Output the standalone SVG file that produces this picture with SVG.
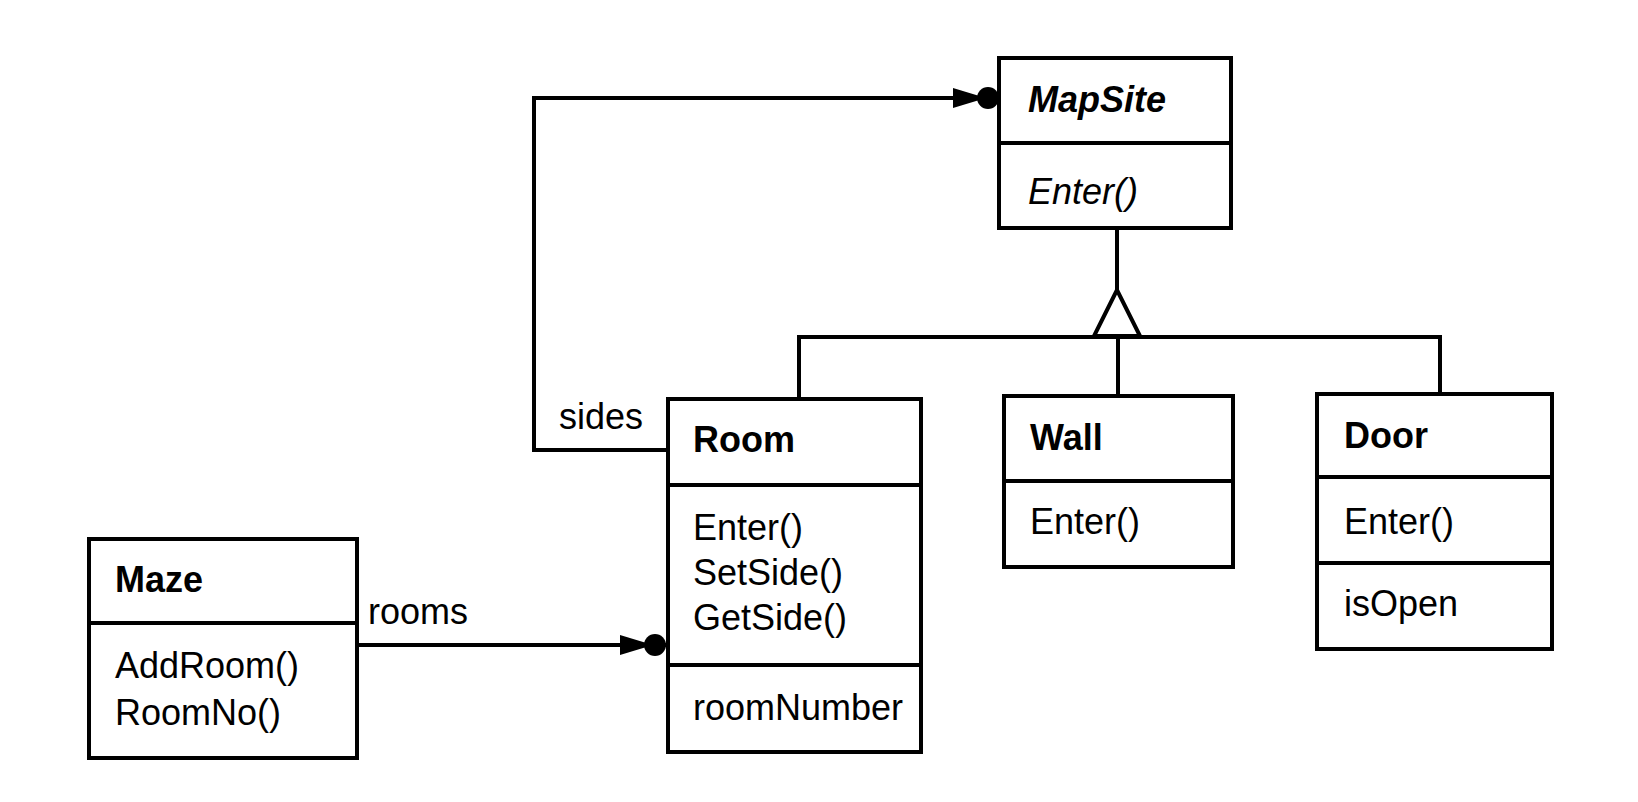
<svg xmlns="http://www.w3.org/2000/svg" width="1638" height="802" viewBox="0 0 1638 802">
<style>
.box{fill:#fff;stroke:#000;stroke-width:4}
.div{stroke:#000;stroke-width:4}
.ln{fill:none;stroke:#000;stroke-width:4}
text{font-family:"Liberation Sans",Arial,Helvetica,sans-serif;font-size:36px;fill:#000}
.name{font-weight:bold}
.abs{font-weight:bold;font-style:italic}
.it{font-style:italic}
</style>
<defs>
<marker id="assoc" markerUnits="userSpaceOnUse" markerWidth="50" markerHeight="28" refX="47" refY="14" orient="auto">
<path d="M1,4 L34,14 L1,24 Z" fill="#000"/>
<circle cx="36" cy="14" r="11" fill="#000"/>
</marker>
</defs>
<rect width="1638" height="802" fill="#fff"/>
<g id="connectors">
<polyline class="ln" points="668,450 534,450 534,98 999,98" marker-end="url(#assoc)"/>
<line class="ln" x1="357" y1="645" x2="666" y2="645" marker-end="url(#assoc)"/>
<line class="ln" x1="1117" y1="228" x2="1117" y2="290"/>
<polygon points="1117,290 1094,336 1140,336" fill="#fff" stroke="#000" stroke-width="4" stroke-linejoin="miter"/>
<polyline class="ln" points="799,399 799,337 1440,337 1440,394"/>
<line class="ln" x1="1118" y1="337" x2="1118" y2="396"/>
</g>
<g id="MapSite">
<rect class="box" x="999" y="58" width="232" height="170"/>
<line class="div" x1="999" y1="143" x2="1231" y2="143"/>
<text class="abs" x="1028" y="112">MapSite</text>
<text class="it" x="1028" y="204">Enter()</text>
</g>
<g id="Room">
<rect class="box" x="668" y="399" width="253" height="353"/>
<line class="div" x1="668" y1="485" x2="921" y2="485"/>
<line class="div" x1="668" y1="665" x2="921" y2="665"/>
<text class="name" x="693" y="452">Room</text>
<text x="693" y="540">Enter()</text>
<text x="693" y="585">SetSide()</text>
<text x="693" y="630">GetSide()</text>
<text x="693" y="720">roomNumber</text>
</g>
<g id="Wall">
<rect class="box" x="1004" y="396" width="229" height="171"/>
<line class="div" x1="1004" y1="481" x2="1233" y2="481"/>
<text class="name" x="1030" y="450">Wall</text>
<text x="1030" y="534">Enter()</text>
</g>
<g id="Door">
<rect class="box" x="1317" y="394" width="235" height="255"/>
<line class="div" x1="1317" y1="477" x2="1552" y2="477"/>
<line class="div" x1="1317" y1="563" x2="1552" y2="563"/>
<text class="name" x="1344" y="448">Door</text>
<text x="1344" y="534">Enter()</text>
<text x="1344" y="616">isOpen</text>
</g>
<g id="Maze">
<rect class="box" x="89" y="539" width="268" height="219"/>
<line class="div" x1="89" y1="623" x2="357" y2="623"/>
<text class="name" x="115" y="592">Maze</text>
<text x="115" y="678">AddRoom()</text>
<text x="115" y="725">RoomNo()</text>
</g>
<g id="labels">
<text x="559" y="429">sides</text>
<text x="368" y="624">rooms</text>
</g>
</svg>
